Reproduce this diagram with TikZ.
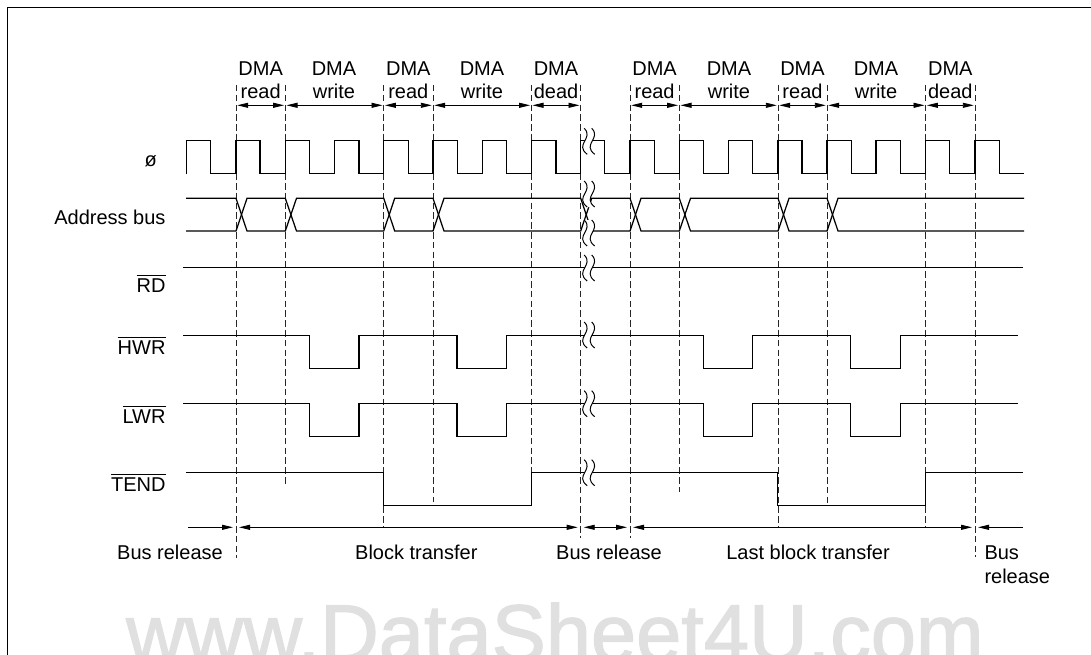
\documentclass[tikz,border=0pt]{standalone}
\usepackage{fontspec}
\setmainfont{Liberation Sans}
\newfontfamily\wmfont[FakeBold=1.6]{Liberation Sans}
\usetikzlibrary{arrows.meta}
\newcommand{\ovl}[1]{\leavevmode\vbox{\hrule height .9pt\kern 3pt\hbox{#1}}}
\tikzset{
  x=1pt,y=-1pt,
  sig/.style={line width=1.25pt,line join=miter,black},
  dsh/.style={line width=.9pt,dash pattern=on 6.5pt off 3.3pt,black!85},
  dimline/.style={line width=.9pt,black,{Triangle[length=11pt,width=5pt]}-{Triangle[length=11pt,width=5pt]}},
  dimtop/.style={dimline,shorten <=1.2pt,shorten >=1.2pt},
  dimbot/.style={dimline,shorten <=3pt,shorten >=3pt},
  lbl/.style={inner sep=0pt,anchor=base,font=\fontsize{20}{24}\selectfont,align=center},
  rlbl/.style={inner sep=0pt,anchor=base east,font=\fontsize{20}{24}\selectfont},
  squig/.style={line width=1pt,black},
}
\newcommand{\brk}[1]{%
  \fill[white] (584.2,#1-13) .. controls (594.2,#1-3) and (574.2,#1+3) .. (587.2,#1+13)
     -- (594.7,#1+13) .. controls (581.7,#1+3) and (601.7,#1-3) .. (591.7,#1-13) -- cycle;
  \draw[squig] (584.2,#1-13) .. controls (594.2,#1-3) and (574.2,#1+3) .. (587.2,#1+13);
  \draw[squig] (591.7,#1-13) .. controls (601.7,#1-3) and (581.7,#1+3) .. (594.7,#1+13);
}
\begin{document}
\begin{tikzpicture}
\path[use as bounding box] (0,0) rectangle (1091,655);
% watermark
\begin{scope}
\clip (0,0) rectangle (1091,655);
\node[inner sep=0pt,anchor=base west,text=black!12,font=\wmfont\fontsize{81.2}{90}\selectfont] (wm) at (126,661.5) {www.DataSheet4U.com};
\end{scope}
% frame
\coordinate (fa) at (7,655);
\coordinate (fb) at (7,8);
\coordinate (fc) at (1091,8);
\draw[line width=1pt,black] (fa) -- (fb) -- (fc);
% dashed guides
\foreach \x/\yb in {236/558,285.3/485,383.7/527,433/502,531.3/505,580.7/538,630/538,679.3/491.5,778/527,827/505,925.7/526.5,975/557}{
  \draw[dsh] (\x,85) -- (\x,\yb);
}
% header labels
\foreach \x/\t in {260.7/read,334/write,408.3/read,482/write,556/dead,654.6/read,729/write,802.5/read,876/write,950.3/dead}{
  \node[lbl] (h\x) at (\x,75.5) {DMA};
  \node[lbl] (s\x) at (\x,99) {\t};
}
% header arrows
\foreach \n/\x in {1/236,2/285.3,3/383.7,4/433,5/531.3,6/580.7,7/630,8/679.3,9/778,10/827,11/925.7,12/975}{
  \coordinate (t\n) at (\x,105.3);
  \coordinate (b\n) at (\x,527.3);
}
\foreach \a/\b in {1/2,2/3,3/4,4/5,5/6,7/8,8/9,9/10,10/11,11/12}{
  \draw[dimtop] (t\a) -- (t\b);
}
% clock
\draw[sig] (186.3,173.7) -- (186.3,140.7) -- (210.7,140.7) -- (210.7,173.7)
 -- (236,173.7) -- (236,140.7) -- (260,140.7) -- (260,173.7)
 -- (285.3,173.7) -- (285.3,140.7) -- (309.3,140.7) -- (309.3,173.7)
 -- (334.3,173.7) -- (334.3,140.7) -- (359,140.7) -- (359,173.7)
 -- (383.7,173.7) -- (383.7,140.7) -- (408.3,140.7) -- (408.3,173.7)
 -- (433,173.7) -- (433,140.7) -- (457.3,140.7) -- (457.3,173.7)
 -- (482.3,173.7) -- (482.3,140.7) -- (506.7,140.7) -- (506.7,173.7)
 -- (531.3,173.7) -- (531.3,140.7) -- (556,140.7) -- (556,173.7)
 -- (580.7,173.7) -- (580.7,140.7) -- (604.3,140.7) -- (604.3,173.7)
 -- (630,173.7) -- (630,140.7) -- (654.3,140.7) -- (654.3,173.7)
 -- (679.3,173.7) -- (679.3,140.7) -- (703.3,140.7) -- (703.3,173.7)
 -- (728.3,173.7) -- (728.3,140.7) -- (752.7,140.7) -- (752.7,173.7)
 -- (778,173.7) -- (778,140.7) -- (802,140.7) -- (802,173.7)
 -- (827,173.7) -- (827,140.7) -- (851.3,140.7) -- (851.3,173.7)
 -- (876,173.7) -- (876,140.7) -- (900.3,140.7) -- (900.3,173.7)
 -- (925.7,173.7) -- (925.7,140.7) -- (949.7,140.7) -- (949.7,173.7)
 -- (975,173.7) -- (975,140.7) -- (999.3,140.7) -- (999.3,173.7)
 -- (1024,173.7);
% address bus
\draw[sig] (186,198.3) -- (236,198.3) -- (247,231) -- (285.3,231) -- (296.5,198.3) -- (383.7,198.3) -- (394.7,231) -- (433,231) -- (444,198.3) -- (580.7,198.3) -- (591.7,231) -- (630,231) -- (641,198.3) -- (679.3,198.3) -- (690.5,231) -- (778,231) -- (789,198.3) -- (827,198.3) -- (838,231) -- (1024,231);
\draw[sig] (186,231) -- (236,231) -- (247,198.3) -- (285.3,198.3) -- (296.5,231) -- (383.7,231) -- (394.7,198.3) -- (433,198.3) -- (444,231) -- (580.7,231) -- (591.7,198.3) -- (630,198.3) -- (641,231) -- (679.3,231) -- (690.5,198.3) -- (778,198.3) -- (789,231) -- (827,231) -- (838,198.3) -- (1024,198.3);
% RD
\draw[sig] (182.7,267.7) -- (1022.5,267.7);
% HWR, LWR
\foreach \h/\l in {335.3/368.3,403.7/436.7}{
  \draw[sig] (183.3,\h) -- (309.7,\h) -- (309.7,\l) -- (359,\l) -- (359,\h) -- (457,\h) -- (457,\l) -- (506.7,\l) -- (506.7,\h) -- (703.7,\h) -- (703.7,\l) -- (752.7,\l) -- (752.7,\h) -- (850.7,\h) -- (850.7,\l) -- (900.7,\l) -- (900.7,\h) -- (1018.3,\h);
}
% TEND
\draw[sig] (186,472.7) -- (383.7,472.7) -- (383.7,505.3) -- (531.3,505.3) -- (531.3,472.7) -- (777.7,472.7) -- (777.7,505.3) -- (925.7,505.3) -- (925.7,472.7) -- (1023.3,472.7);
% breaks
\foreach \y in {141.3,194,233,268,335,403.7,472.7}{\brk{\y}}
% bottom arrows
\coordinate (bl) at (188.3,527.3);
\coordinate (br) at (1023,527.3);
\draw[line width=.9pt,-{Triangle[length=11pt,width=5pt]},shorten >=3pt] (bl) -- (b1);
\draw[dimbot] (b1) -- (b6);
\draw[dimbot] (b6) -- (b7);
\draw[dimbot] (b7) -- (b12);
\draw[line width=.9pt,-{Triangle[length=11pt,width=5pt]},shorten >=3pt] (br) -- (b12);
% signal labels
\node[inner sep=0pt,anchor=base,font=\fontsize{20}{24}\selectfont] (clk) at (150.7,166.8) {ø};
\node[rlbl] (ab) at (165.7,224.5) {Address bus};
\node[rlbl] (rd) at (165.7,292.5) {\ovl{RD}};
\node[rlbl] (hwr) at (165.7,354.5) {\ovl{HWR}};
\node[rlbl] (lwr) at (165.7,423.8) {\ovl{LWR}};
\node[rlbl] (tend) at (165.7,491.2) {\ovl{TEND}};
% bottom labels
\node[lbl] (br1) at (170,559.8) {Bus release};
\node[lbl] (bt1) at (416.3,559.8) {Block transfer};
\node[lbl] (br2) at (609,559.8) {Bus release};
\node[lbl] (bt2) at (808,559.8) {Last block transfer};
\node[inner sep=0pt,anchor=base west,font=\fontsize{20}{24}\selectfont] (br3a) at (984.3,559.8) {Bus};
\node[inner sep=0pt,anchor=base west,font=\fontsize{20}{24}\selectfont] (br3b) at (984.3,583.8) {release};
\end{tikzpicture}
\end{document}
